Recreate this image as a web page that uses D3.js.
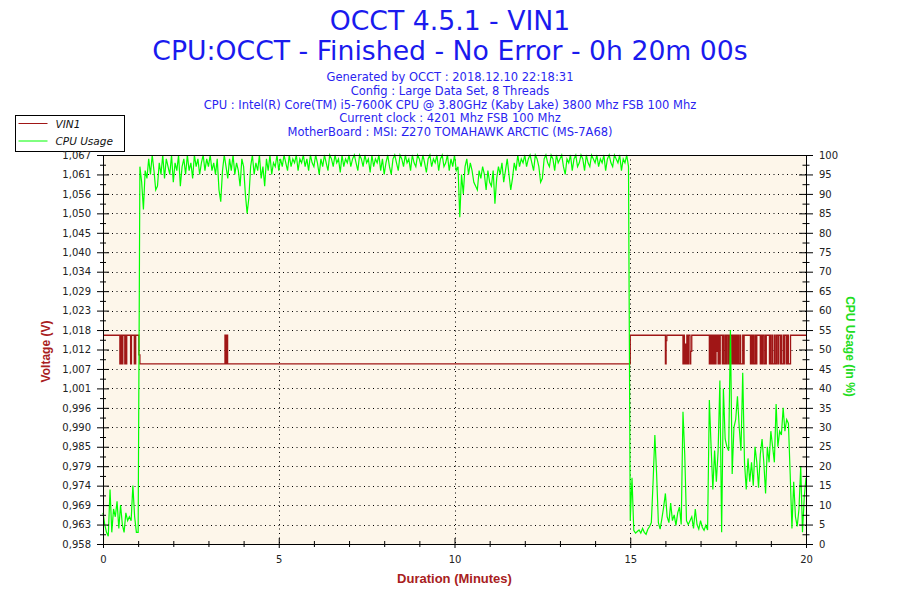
<!DOCTYPE html>
<html>
<head>
<meta charset="utf-8">
<script src="https://cdn.jsdelivr.net/npm/d3@7"></script>
<style>
  body { margin: 0; background: #fff; }
  svg { display: block; font-family: "DejaVu Sans", sans-serif; }
</style>
</head>
<body>
<script>
// ---- texts ----
const titleLines = [
  "OCCT 4.5.1 - VIN1",
  "CPU:OCCT - Finished - No Error - 0h 20m 00s"
];
const infoLines = [
  "Generated by OCCT : 2018.12.10 22:18:31",
  "Config : Large Data Set, 8 Threads",
  "CPU : Intel(R) Core(TM) i5-7600K CPU @ 3.80GHz (Kaby Lake) 3800 Mhz FSB 100 Mhz",
  "Current clock : 4201 Mhz FSB 100 Mhz",
  "MotherBoard : MSI: Z270 TOMAHAWK ARCTIC (MS-7A68)"
];
const seriesNames = ["VIN1", "CPU Usage"];

// ---- tick labels ----
const voltRange = [0.958, 1.067];
const voltTickLabels = ["0,958", "0,963", "0,969", "0,974", "0,979", "0,985", "0,990",
  "0,996", "1,001", "1,007", "1,012", "1,018", "1,023", "1,029", "1,034", "1,040",
  "1,045", "1,050", "1,056", "1,061", "1,067"];
const cpuTickValues = [0, 5, 10, 15, 20, 25, 30, 35, 40, 45, 50, 55, 60, 65, 70, 75, 80, 85, 90, 95, 100];
const minuteTickValues = [0, 5, 10, 15, 20];

// ---- CPU usage (%), one reading every 3 s (0.05 min) ----
const cpuStep = 0.05;
const cpuLoad = [
  8, 5, 3, 2, 14, 3, 9, 7, 11, 4, 10, 5, 3, 8, 6, 7, 6, 15, 7, 3, 3,
  97, 93, 86, 96, 94, 99, 95, 100, 96, 91, 92, 98, 95, 100, 94, 99, 97, 95, 100, 93,
  98, 96, 100, 92, 97, 99, 95, 100, 96, 98, 94, 100, 97, 99, 95, 98, 100, 96, 99, 97,
  100, 96, 98, 95, 99, 91, 88, 96, 100, 97, 94, 99, 96, 100, 95, 98, 96, 92, 99, 97,
  90, 85, 89, 97, 100, 95, 98, 96, 100, 94, 97, 92, 99, 96, 100, 95, 98, 97, 100, 96,
  99, 97, 100, 98, 96, 100, 97, 99, 98, 100, 96, 99, 98, 100, 97, 99, 96, 100, 98, 97,
  100, 98, 95, 99, 97, 100, 98, 96, 100, 99, 97, 100, 98, 99, 95.5, 100, 97, 99, 98, 100,
  97, 99, 100, 98, 96, 100, 99, 97, 100, 98, 99, 95.5, 100, 97, 99, 98, 100, 96, 99, 95,
  98, 100, 97, 95, 99, 100, 98, 96, 100, 99, 97, 100, 98, 99, 96, 100, 98, 97, 100, 99,
  97, 100, 98, 95.5, 99, 100, 97, 99, 98, 100, 96, 99, 100, 97, 98, 100, 96, 99, 97, 100,
  96, 97, 84, 95, 90, 97, 99, 95, 98, 96, 93, 92, 91, 96, 94, 97, 95, 91, 96, 93,
  92, 96, 87.5, 94, 97, 95, 98, 93, 96, 99, 95, 91, 94, 98, 96, 100, 97, 99, 98, 100,
  97, 99, 100, 98, 96, 100, 99, 97, 93, 94, 99, 100, 98, 97, 100, 99, 96, 100, 98, 99,
  100, 97, 95, 99, 98, 100, 96, 99, 100, 97, 98, 100, 99, 96, 100, 98, 97, 100, 99, 98,
  100, 97, 99, 98, 100, 96, 99, 100, 98, 97, 100, 99, 98, 100, 96, 99, 98, 100, 97,
  6, 17, 3.5, 2.8, 3.2, 3.6, 2.8, 4, 3, 2.5, 3.8, 4.5, 5.5, 16, 28, 18, 5.5, 3.8, 6.5, 9.5,
  13, 7, 5.5, 10.5, 6, 7.5, 4.8, 8, 9.5, 5, 34, 23, 6, 5, 6, 7, 4, 9, 5, 3.8,
  6, 4.3, 3.5, 4.8, 3.6, 37, 25, 14, 24, 16,
  24, 42, 3, 40, 27, 25, 24, 55, 18, 30, 32, 38, 30, 24, 44, 21, 14, 22, 16, 21,
  15, 25, 21, 14.5, 23, 27, 21, 13, 25, 21, 29, 25, 21, 36, 25, 29, 28, 35, 29, 32,
  31, 18, 4, 16, 7, 4.5, 9, 20, 3, 12, 17
];

// ---- VIN1 (V): value held from each time (min) until the next one ----
const vinTime = [
  0, 0.48, 0.50, 0.51, 0.53, 0.545, 0.565, 0.62, 0.64, 0.65, 0.675, 0.785, 0.81, 0.89,
  0.905, 0.915, 0.93, 1.02, 1.05,
  3.47, 3.485, 3.495, 3.515, 3.525, 3.545,
  15.0, 16.0, 16.02, 16.04, 16.5, 16.52, 16.54, 16.56, 16.58, 16.61, 16.64, 16.655,
  16.7, 16.72, 16.75,
  17.25, 17.27, 17.29, 17.30, 17.33, 17.36, 17.38, 17.40, 17.42, 17.44, 17.46, 17.48,
  17.50, 17.52, 17.54, 17.56, 17.62, 17.64, 17.66, 17.70, 17.715, 17.75, 17.79, 17.81,
  17.84, 17.86, 17.90, 17.93, 17.945, 17.98, 18.00, 18.02, 18.035, 18.07, 18.08, 18.12,
  18.14, 18.20, 18.22, 18.24, 18.42, 18.45, 18.47, 18.50, 18.52, 18.56, 18.58, 18.60,
  18.70, 18.72, 18.75, 18.76, 18.80, 18.84, 18.86, 18.87, 18.96, 18.98, 19.00, 19.04,
  19.05, 19.10, 19.12, 19.16, 19.20, 19.22, 19.27, 19.29, 19.31, 19.36, 19.38, 19.40,
  19.45, 19.47, 19.50, 19.56, 20.0
];
const vinVolt = [
  1.0165, 1.0085, 1.0165, 1.0085, 1.0165, 1.0085, 1.0165, 1.0085, 1.0165, 1.0085, 1.0165,
  1.0085, 1.0165, 1.0085, 1.0165, 1.0085, 1.0165, 1.011, 1.0085,
  1.0165, 1.0085, 1.0165, 1.0085, 1.0165, 1.0085,
  1.0165, 1.0085, 1.015, 1.0165, 1.0085, 1.0165, 1.0085, 1.014, 1.0085, 1.0165, 1.0085,
  1.0165, 1.0085, 1.012, 1.0165,
  1.0085, 1.0165, 1.0085, 1.0165, 1.0085, 1.0165, 1.0085, 1.0165, 1.0085, 1.0165, 1.012,
  1.0165, 1.0085, 1.0165, 1.0085, 1.0165, 1.0085, 1.0165, 1.0085, 1.0165, 1.0085, 1.0165,
  1.0085, 1.0165, 1.0085, 1.0165, 1.0085, 1.0165, 1.0085, 1.0165, 1.0085, 1.0165, 1.0085,
  1.0165, 1.0085, 1.0165, 1.0085, 1.0165, 1.0085, 1.0165, 1.0085, 1.0165, 1.0085, 1.0165,
  1.0085, 1.0165, 1.0085, 1.0165, 1.0085, 1.0165, 1.0085, 1.0165, 1.0085, 1.0165, 1.0085,
  1.0165, 1.0085, 1.0165, 1.0085, 1.0165, 1.0085, 1.0165, 1.0085, 1.0165, 1.0085, 1.0165,
  1.0085, 1.0165, 1.0085, 1.0165, 1.0085, 1.0165, 1.0085, 1.0165, 1.0085, 1.0165, 1.0165
];

// colours
const voltColor = "#a01616";
const cpuColor = "#00ff00";
const titleColor = "#1a1aee";

// Set the dimensions of the canvas / graph
const margin = { top: 155, right: 94, bottom: 56, left: 103 },
  width = 900 - margin.left - margin.right,
  height = 600 - margin.top - margin.bottom;

// Set the ranges
const x = d3.scaleLinear().domain([0, 20]).range([0, width]);
const yCpu = d3.scaleLinear().domain([0, 100]).range([height, 0]);
const yVolt = d3.scaleLinear().domain(voltRange).range([height, 0]);

const voltStep = (voltRange[1] - voltRange[0]) / (voltTickLabels.length - 1);
const voltTickValues = voltTickLabels.map((d, i) => voltRange[0] + i * voltStep);

const root = d3.select("body").append("svg")
  .attr("width", 900)
  .attr("height", 600);

// titles
root.selectAll("text.title")
  .data(titleLines)
  .enter().append("text")
  .attr("class", "title")
  .attr("x", 450)
  .attr("y", (d, i) => 30 + i * 29.5)
  .attr("text-anchor", "middle")
  .attr("fill", titleColor)
  .style("font-size", "26.7px")
  .text(d => d);

root.selectAll("text.info")
  .data(infoLines)
  .enter().append("text")
  .attr("class", "info")
  .attr("x", 450)
  .attr("y", (d, i) => 81 + i * 13.75)
  .attr("text-anchor", "middle")
  .attr("fill", "#2a1ff0")
  .style("font-size", "11.5px")
  .text(d => d);

// legend
const legend = root.append("g").attr("transform", "translate(15.5,115.5)");
legend.append("rect")
  .attr("width", 109).attr("height", 36)
  .attr("fill", "#fff").attr("stroke", "#000");
[voltColor, cpuColor].forEach((c, i) => {
  legend.append("line")
    .attr("x1", 3).attr("x2", 32)
    .attr("y1", 8 + i * 17.5).attr("y2", 8 + i * 17.5)
    .attr("stroke", c);
  legend.append("text")
    .attr("x", 40).attr("y", 12 + i * 17.5)
    .style("font-size", "10.5px").style("font-style", "italic")
    .attr("fill", "#111")
    .text(seriesNames[i]);
});

const svg = root.append("g")
  .attr("transform", "translate(" + margin.left + "," + margin.top + ")");

// plot background
svg.append("rect")
  .attr("width", width).attr("height", height)
  .attr("fill", "#fdf6ea");

// dotted grid
svg.append("g").selectAll("line")
  .data(cpuTickValues.slice(1, -1))
  .enter().append("line")
  .attr("x1", 0).attr("x2", width)
  .attr("y1", d => Math.round(yCpu(d)) + 0.5).attr("y2", d => Math.round(yCpu(d)) + 0.5)
  .attr("stroke", "#000").attr("stroke-dasharray", "1,3.5");
svg.append("g").selectAll("line")
  .data(minuteTickValues.slice(1, -1))
  .enter().append("line")
  .attr("x1", d => Math.round(x(d)) + 0.5).attr("x2", d => Math.round(x(d)) + 0.5)
  .attr("y1", 0).attr("y2", height)
  .attr("stroke", "#000").attr("stroke-dasharray", "1,3.5");

// VIN1 line
const vinRows = vinTime.map((t, i) => ({ t, v: vinVolt[i] }));
svg.append("path")
  .datum(vinRows)
  .attr("fill", "none")
  .attr("stroke", voltColor)
  .attr("stroke-width", 1.3)
  .attr("d", d3.line().curve(d3.curveStepAfter)
    .x(row => x(row.t))
    .y(row => yVolt(row.v)));

// CPU usage line
const cpuRows = cpuLoad.map((v, i) => ({ t: i * cpuStep, v }));
svg.append("path")
  .datum(cpuRows)
  .attr("fill", "none")
  .attr("stroke", cpuColor)
  .attr("stroke-width", 1.2)
  .attr("d", d3.line()
    .x(row => x(row.t))
    .y(row => yCpu(row.v)));

// top border
svg.append("line")
  .attr("x1", 0).attr("x2", width).attr("y1", 0.5).attr("y2", 0.5)
  .attr("stroke", "#000");

// axes
function styleAxis(g) {
  g.select(".domain").attr("stroke", "#000");
  g.selectAll(".tick line").attr("stroke", "#000");
  g.selectAll(".tick text").attr("fill", "#222").style("font-size", "10px")
    .style("font-family", "'DejaVu Sans', sans-serif");
}

// minor ticks (half steps)
const voltMinor = voltTickValues.slice(0, -1).map(v => v + voltStep / 2);
const cpuMinor = cpuTickValues.slice(0, -1).map(v => v + 2.5);
const minuteMinor = d3.range(0, 21).filter(m => m % 5 !== 0);

svg.append("g")
  .call(d3.axisLeft(yVolt).tickValues(voltMinor).tickSize(3).tickFormat(""))
  .call(g => g.select(".domain").remove())
  .call(g => g.selectAll(".tick line").attr("x1", 3).attr("stroke", "#000"));
svg.append("g")
  .call(d3.axisLeft(yVolt).tickValues(voltTickValues).tickSize(6).tickSizeOuter(0)
    .tickPadding(6).tickFormat((d, i) => voltTickLabels[i]))
  .call(styleAxis)
  .call(g => g.selectAll(".tick line").attr("x1", 6));

svg.append("g")
  .attr("transform", "translate(" + width + ",0)")
  .call(d3.axisRight(yCpu).tickValues(cpuMinor).tickSize(3.5).tickFormat(""))
  .call(g => g.select(".domain").remove())
  .call(g => g.selectAll(".tick line").attr("x1", -3.5).attr("stroke", "#000"));
svg.append("g")
  .attr("transform", "translate(" + width + ",0)")
  .call(d3.axisRight(yCpu).tickValues(cpuTickValues).tickSize(7).tickSizeOuter(0).tickPadding(6))
  .call(styleAxis)
  .call(g => g.selectAll(".tick line").attr("x1", -7));

svg.append("g")
  .attr("transform", "translate(0," + height + ")")
  .call(d3.axisBottom(x).tickValues(minuteMinor).tickSize(3).tickFormat(""))
  .call(g => g.select(".domain").remove())
  .call(g => g.selectAll(".tick line").attr("y1", -3).attr("stroke", "#000"));
svg.append("g")
  .attr("transform", "translate(0," + height + ")")
  .call(d3.axisBottom(x).tickValues(minuteTickValues).tickSize(4).tickSizeOuter(0).tickPadding(8))
  .call(styleAxis)
  .call(g => g.selectAll(".tick line").attr("y1", -6));

// axis titles
svg.append("text")
  .attr("transform", "translate(-53," + (height / 2 + 2) + ") rotate(-90)")
  .attr("text-anchor", "middle")
  .attr("fill", "#a82020")
  .style("font-size", "12px").style("font-weight", "bold")
  .style("font-family", "'Liberation Sans', Arial, sans-serif")
  .text("Voltage (V)");
svg.append("text")
  .attr("transform", "translate(" + (width + 40) + "," + (height / 2 - 3) + ") rotate(90)")
  .attr("text-anchor", "middle")
  .attr("fill", "#22dd22")
  .style("font-size", "12px").style("font-weight", "bold")
  .style("font-family", "'Liberation Sans', Arial, sans-serif")
  .text("CPU Usage (in %)");
svg.append("text")
  .attr("x", width / 2 + 0)
  .attr("y", height + 39)
  .attr("text-anchor", "middle")
  .attr("fill", "#a82020")
  .style("font-size", "13px").style("font-weight", "bold")
  .style("font-family", "'Liberation Sans', Arial, sans-serif")
  .text("Duration (Minutes)");
</script>
</body>
</html>
